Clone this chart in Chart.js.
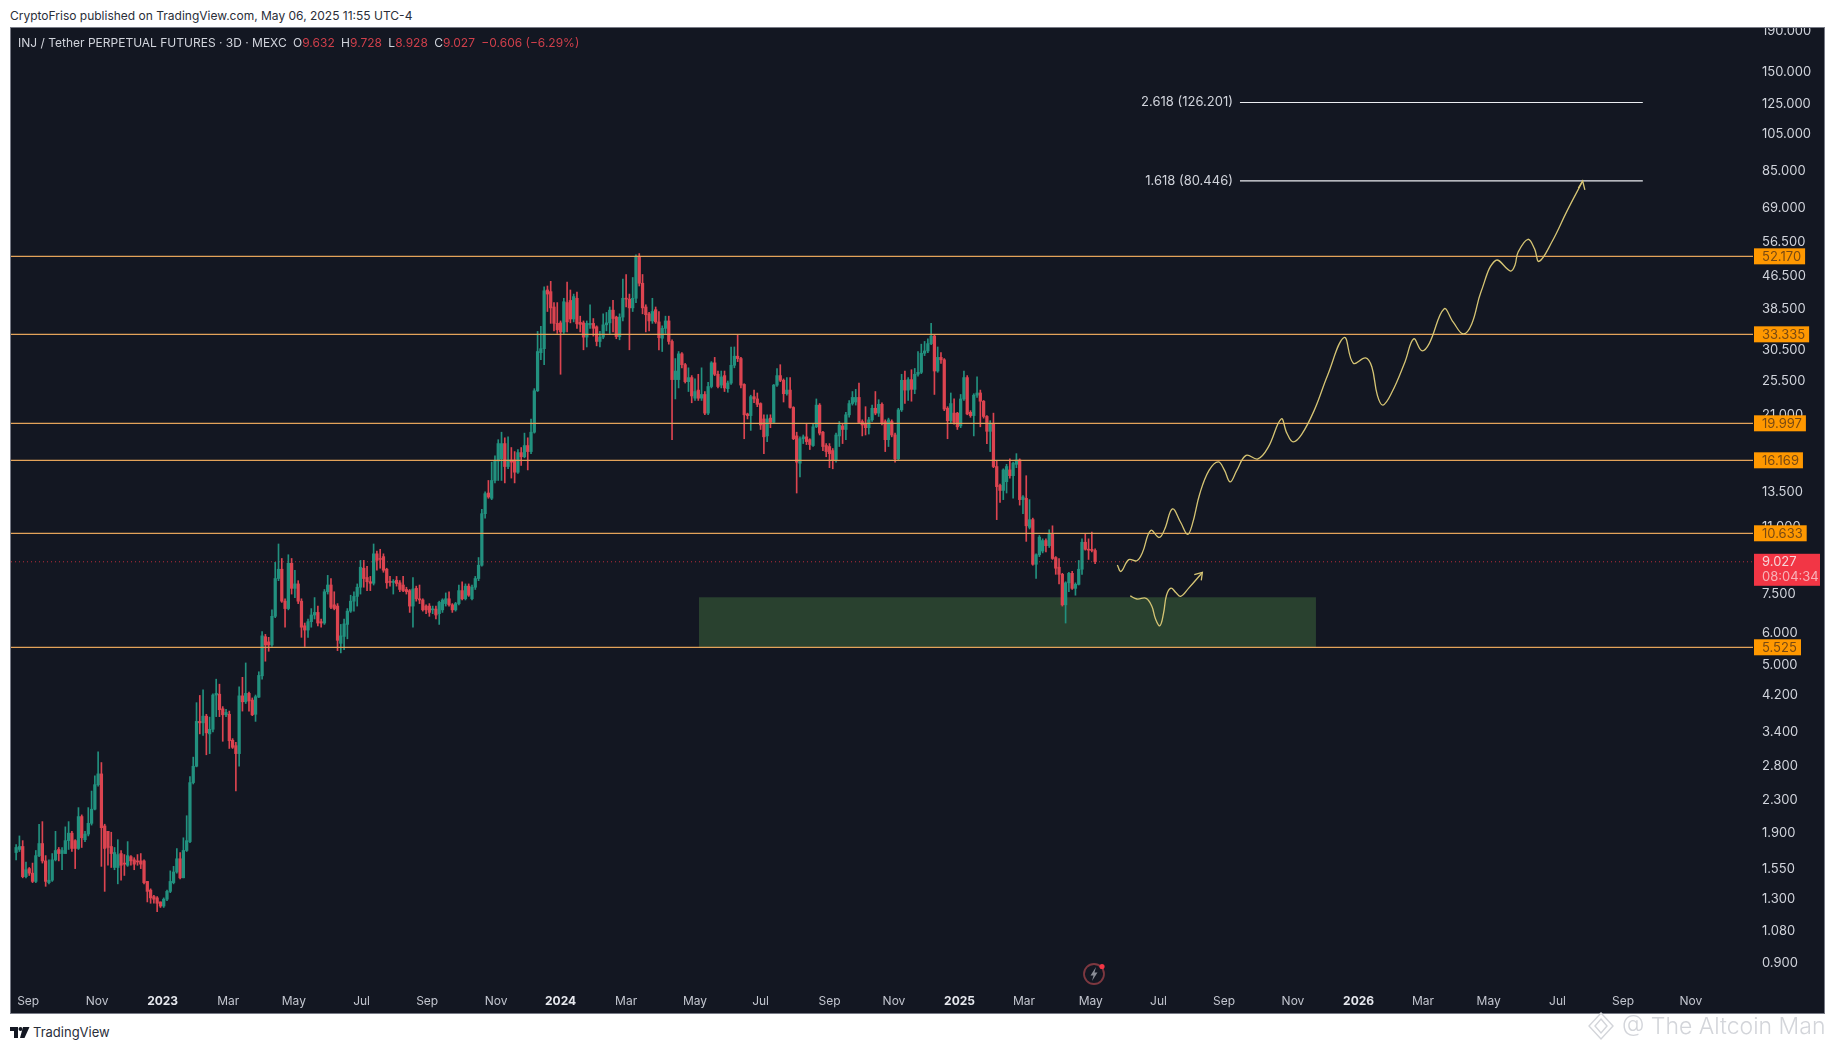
<!DOCTYPE html>
<html>
<head>
<meta charset="utf-8">
<title>INJ / Tether PERPETUAL FUTURES</title>
<script src="https://cdn.jsdelivr.net/npm/chart.js@4"></script>
<style>
  html, body { margin: 0; padding: 0; background: #fff; width: 1835px; height: 1050px; overflow: hidden; font-family: Inter, "Noto Sans", sans-serif; }
  #pub { position: absolute; left: 10px; top: 8px; font-size: 12px; line-height: 16px; color: #2a2e39; white-space: nowrap; }
  #panel { position: absolute; left: 10px; top: 27px; width: 1815px; height: 987px; background: #131722; border: 1px solid #787b86; box-sizing: border-box; }
  #wrap { position: absolute; left: 11px; top: 28px; width: 1814px; height: 986px; }
  #legend { position: absolute; left: 18px; top: 35px; font-size: 12px; line-height: 16px; color: #d1d4dc; white-space: nowrap; }
  #legend b { font-weight: 400; margin-left: 3px; }
  #legend span { color: #cf3f4b; }
  #legend span.chg { margin-left: 3px; }
  #bolt { position: absolute; left: 1082px; top: 961px; }
  #logo { position: absolute; left: 10px; top: 1026px; }
  #brand { position: absolute; left: 33px; top: 1023px; font-size: 13px; line-height: 18px; color: #2a2e39; }
  #mark { position: absolute; left: 1622px; top: 1010px; font-size: 23px; line-height: 32px; color: #d3d5da; white-space: nowrap; font-weight: 300; }
  #gem { position: absolute; left: 1586px; top: 1010px; }
</style>
</head>
<body>
<div id="pub">CryptoFriso published on TradingView.com, May 06, 2025 11:55 UTC-4</div>
<div id="panel"></div>
<div id="wrap"><canvas id="chart" width="1814" height="986"></canvas></div>
<div id="legend">INJ / Tether PERPETUAL FUTURES · 3D · MEXC <b>O</b><span>9.632</span> <b>H</b><span>9.728</span> <b>L</b><span>8.928</span> <b>C</b><span>9.027</span> <span class="chg">−0.606 (−6.29%)</span></div>
<svg id="bolt" width="26" height="26" viewBox="0 0 26 26">
  <circle cx="12" cy="13" r="10" fill="none" stroke="#7d3840" stroke-width="1.8"/>
  <path d="M14 6 L8.5 14.5 L11.5 14.5 L10 20 L15.5 11.5 L12.5 11.5 Z" fill="#8a8d96"/>
  <circle cx="20" cy="5.5" r="2.6" fill="#f23645"/>
</svg>
<svg id="logo" width="20" height="13" viewBox="0 0 20 13">
  <path d="M0 1 H8 V12 H4 V5 H0 Z M13 1 H19.5 L14.5 12 H10 Z" fill="#131722"/>
  <circle cx="10.5" cy="3" r="2" fill="#131722"/>
</svg>
<div id="brand">TradingView</div>
<svg id="gem" width="30" height="32" viewBox="0 0 30 32">
  <path d="M15 3 L27 16 L15 29 L3 16 Z M15 9 L21 16 L15 23 L9 16 Z" fill="none" stroke="#d3d5da" stroke-width="1.4"/>
</svg>
<div id="mark">@ The Altcoin Man</div>

<script>
// 3D candles, first one on 2022-08-20 (days counted from 2022-09-01)
const firstCandleDay = -12;
const candleStep = 3;

const opens = [
  1.70,1.73,1.76,1.48,1.55,1.51,1.44,1.67,1.79,1.62,1.43,1.45,1.63,1.73,1.69,1.69,1.82,1.90,1.82,1.74,
  2.09,1.83,1.89,2.01,2.18,2.51,2.67,1.98,1.92,1.76,1.56,1.56,1.69,1.60,1.58,1.66,1.63,1.62,1.62,1.62,
  1.44,1.37,1.32,1.31,1.28,1.25,1.30,1.36,1.43,1.52,1.64,1.47,1.72,1.81,2.54,2.79,3.61,3.58,3.72,3.36,
  3.45,4.20,4.22,3.88,3.75,3.76,3.24,3.14,3.00,4.18,4.04,4.24,
  4.08,3.76,4.15,4.69,5.87,5.7,5.6,6.6,8.2,8.65,7.2,6.9,8.95,7.75,7.95,7.2,6.25,6.1,6.4,6.65,
  6.75,6.4,6.35,7.6,7.9,7.05,7.0,5.65,5.88,6.3,6.8,7.2,7.4,7.8,8.7,8.25,8.05,7.98,9.45,9.2,
  9.3,8.65,8.05,8.02,8.12,8.0,7.9,7.7,7.65,7.0,7.75,7.3,7.25,7.0,7.0,6.85,6.88,6.7,6.85,7.1,
  7.3,7.05,6.85,7.1,7.65,7.3,7.85,7.3,7.8,8.2,
  8.85,11.9,13.4,13.0,14.4,16.1,16.3,17.8,15.6,16.2,16.2,15.1,16.9,16.5,17.6,17.0,19,24.1,30,30.7,
  43,42.6,39,35.5,35.6,33.8,40,40.5,36.4,41,35.7,35.6,32.8,35.2,35.5,34.8,32,32.8,35.2,35.6,
  38.3,36.8,32.9,36.8,41,40.8,38.8,41,52.2,44.7,39,37.5,36,38.4,35.8,32.6,34.5,36,32,25.7,
  25.7,29.8,28,25.4,26,23.1,24.2,23.1,23.6,21.2,24.7,28.3,26.5,
  24.9,26.3,24.4,25.2,27.9,29.4,29,25,21.1,20.9,23.3,23,22.4,20.5,18.6,20.6,20.1,24.9,26.3,25.6,
  23.7,24.2,21.9,18.6,15.9,18.3,18.5,18.2,17.6,19.6,22.2,19,17.6,17.5,17.1,16.2,18.6,19.7,19.3,21,
  22.4,22.6,23.2,20.2,20,19.5,20.4,21.8,21.2,22.3,20.2,18.2,20.2,18.7,16.3,21.6,25.6,24.2,25.7,24.3,
  26.5,26.8,29.9,30.3,31.6,33,27,29.2,28.8,21.8,20.3,21.2,21.2,19.7,
  23,26,21.3,20.9,23.5,23.8,22.7,20.8,19.1,20,15.6,14,13.6,14.3,15.3,14.8,15.8,16.2,12.9,13,
  11,11.5,8.9,9.4,9.6,10.2,9.9,10.6,9.25,8.75,8.4,7.05,8,8.45,7.75,7.93,8.65,10.1,9.7,9.7,
  9.632
];
const highs = [
  1.78,1.87,1.82,1.61,1.56,1.60,1.72,2.00,2.03,1.67,1.63,1.69,1.92,1.75,1.75,1.97,2.03,1.92,1.83,2.20,
  2.11,1.92,2.20,2.42,2.64,3.03,2.85,2.00,1.92,1.91,1.75,1.83,1.72,1.68,1.81,1.67,1.65,1.68,1.69,1.63,
  1.44,1.38,1.33,1.32,1.28,1.31,1.37,1.53,1.57,1.74,1.70,1.85,2.10,2.63,2.94,4.02,4.19,4.33,3.76,3.70,
  4.23,4.60,4.47,3.93,3.87,3.83,3.27,3.20,4.40,4.65,5.05,4.27,
  4.13,4.2,4.8,6.05,5.95,5.85,6.85,9.0,10.0,9.2,7.3,9.4,9.2,8.6,8.1,7.3,6.35,6.5,6.9,7.35,
  7.0,6.5,7.7,8.35,8.2,7.6,7.1,6.3,6.5,6.9,7.45,7.6,7.95,9.1,9.1,8.8,8.3,10.0,9.6,9.7,
  9.45,8.7,8.3,8.15,8.3,8.1,8.3,7.8,7.7,8.25,7.85,7.9,7.3,7.05,7.1,7.0,7.0,7.2,7.3,7.55,
  7.6,7.1,7.15,7.9,8.05,7.95,7.95,7.9,8.3,9.25,
  12.2,13.5,14.4,16,16.6,18.2,19,18.4,18.5,17.4,17,17.2,17.4,18.9,18.4,20.5,24.4,33.9,34.9,43.8,
  44,45.2,40,40,36,41,45,43,42,42.5,37,36,36,39.5,36.5,35,33.9,37.5,37.8,39,
  40.5,37,37.5,45.8,47,42,46.2,52.6,53,47,39.5,37.8,41,39,38,35,37,37,32.3,29,
  30.2,30,28.2,27.5,26.3,25.8,26.5,27.5,24,25.3,28.5,29.2,27,
  27,27,25.5,31,31,33.3,29.2,25.1,21.2,23.5,24.2,23.8,22.5,21,21,21,25,27.4,28,25.8,
  26,26,22,19,18.5,18.7,20,18.3,19.9,23,22.4,19.1,17.8,17.8,17.3,18.9,20.2,19.9,21.3,22.8,
  24,24.3,25.2,20.4,22,20.7,22.2,24,22.9,22.5,20.4,20.6,20.4,18.9,21.8,26.5,27,26,27.2,27.4,
  30.2,31.5,32,32.5,35.5,33.3,31,30,29,22,23.8,23,21.3,23.6,
  27,26.3,21.5,23.7,26.1,24.2,22.8,20.9,20.3,21.2,16.1,14.1,15.4,15.8,16.3,16,16.8,16.3,13.2,14.8,
  12.9,11.6,9.45,10.5,10.3,10.3,10.85,11.1,9.3,9.2,8.45,8.05,8.5,8.55,8,9.1,10.3,10.6,10.3,10.7,
  9.728
];
const lows = [
  1.63,1.71,1.47,1.47,1.49,1.43,1.43,1.66,1.60,1.40,1.42,1.44,1.62,1.62,1.54,1.69,1.73,1.71,1.55,1.73,
  1.75,1.81,1.87,1.99,2.17,2.49,1.57,1.36,1.58,1.56,1.54,1.42,1.45,1.49,1.57,1.58,1.54,1.58,1.55,1.42,
  1.28,1.27,1.27,1.21,1.24,1.24,1.29,1.35,1.42,1.51,1.46,1.47,1.71,1.80,2.52,2.78,3.36,3.33,2.98,3.00,
  3.40,3.71,3.71,3.22,3.71,3.09,3.09,2.42,2.79,3.83,4.00,3.83,
  3.73,3.61,4.14,4.6,5.1,5.4,5.55,6.55,8.1,7.15,6.2,6.85,7.5,7.35,7.1,5.85,5.55,5.85,6.2,6.5,
  6.25,6.2,6.3,7.5,6.9,6.85,5.42,5.35,5.45,5.8,6.75,6.8,7.0,7.5,7.8,7.65,7.65,7.9,8.6,8.7,
  8.5,7.75,7.85,7.5,7.85,7.6,7.6,7.5,6.75,6.2,7.2,7.1,6.8,6.7,6.6,6.7,6.5,6.3,6.75,7.0,
  7.0,6.75,6.8,7.05,7.25,7.25,7.4,7.25,7.7,8.1,
  8.8,11.6,13,12.9,14.2,14.4,14.4,14.2,15.4,14.6,14.2,15,15.7,16.4,15.3,16.8,18.9,24,28.8,28,
  38,35.5,34,33.5,26.5,33.5,33.8,35.6,35.8,34.5,33.8,30.5,31,34.5,33,31.2,31,32.5,34,33.5,
  33.8,32.5,32.3,36,39,30.5,38,40,44,37.5,33.8,34,35.5,35.5,30.5,30.2,33.5,31.5,18.2,23,
  24.5,27.5,25.2,24,22.5,22.8,22.8,22.8,21,21,24.5,26.3,24.5,
  24.5,24,23.9,25,27.5,28.5,24.5,18.3,20.5,19.2,22.5,22,19.3,16.8,18,19.5,20,24.7,25.4,22.6,
  23.5,21.8,18.2,13.4,14.7,17.8,17.7,17.2,17.5,19.5,18.7,17.1,16.5,15.5,15.4,16,17.5,17.8,18.2,20.7,
  22.2,22.2,20,18.6,18.7,18.8,20.2,21,20.8,19.8,17,17.5,18.5,16,16.2,21.4,22.4,22.8,22.7,23.7,
  26.2,26.6,29.5,30,31.4,23.6,26.8,28.2,21.5,18.3,20,19.9,19.3,19.5,
  22.8,21,20.7,18.6,23.2,19.6,20.6,17.8,17,15.5,11.5,12.7,12.9,13.4,14.6,13,15.5,12.5,11.9,10.15,
  10.9,8.85,8.2,9.3,9.5,9.55,9.8,9.15,8.4,7.95,7,6.35,7.6,7.7,7.45,7.9,8.4,9.65,9.15,9.55,
  8.928
];
const closes = [
  1.75,1.76,1.48,1.54,1.51,1.44,1.67,1.79,1.62,1.44,1.45,1.63,1.72,1.69,1.72,1.82,1.90,1.74,1.74,2.09,
  1.85,1.89,2.01,2.18,2.51,2.67,1.96,1.74,1.75,1.69,1.70,1.68,1.58,1.59,1.67,1.62,1.59,1.61,1.59,1.43,
  1.36,1.31,1.30,1.27,1.25,1.30,1.36,1.44,1.52,1.64,1.47,1.72,1.82,2.54,2.79,3.61,3.58,3.72,3.38,3.45,
  4.20,4.24,3.86,3.75,3.80,3.23,3.11,3.00,4.18,4.04,4.24,4.06,
  3.75,4.16,4.70,5.90,5.6,5.6,6.6,8.2,8.65,7.2,6.9,8.95,7.75,7.95,7.2,6.2,6.1,6.4,6.65,6.75,
  6.35,6.35,7.6,7.9,6.95,6.9,5.75,5.9,6.32,6.8,7.2,7.4,7.8,8.75,8.2,8.05,7.98,9.45,9.1,9.15,
  8.6,8.0,8.02,8.05,7.97,7.7,7.65,7.6,7.0,7.72,7.3,7.25,6.85,6.85,6.75,6.88,6.65,7.15,7.25,7.3,
  7.05,6.85,7.1,7.65,7.3,7.85,7.45,7.8,8.2,8.85,
  11.9,13.35,13.1,14.4,16.1,17.8,17.8,15.6,16.2,16,15.1,16.9,16.5,17.6,17,19,24.1,30.2,30.7,42.8,
  42,38.8,35.5,34.2,33.8,40.2,35.8,36.4,41.4,35.4,35.3,32.8,35.5,35.5,34.5,32,32.8,35.2,35.6,38.3,
  36.5,32.9,36.8,41,40.8,38.8,41,52.2,44.7,38.8,37.3,36,38,35.8,32.7,34.5,36,32,25.7,27,
  29.8,28,25.4,26,23.4,24,23.1,23.6,21.2,24.7,28.3,26.5,24.7,
  26.1,24.5,25.2,27.9,29.4,29,24.9,21,20.9,23.3,23,22.3,19.8,18.5,20.5,20.1,24.9,26.3,25.6,23.7,
  24.2,21.9,18.3,16,18.3,18.5,18,17.7,19.6,22.2,18.9,17.5,17,16.8,16.2,18.7,19.8,19.3,21,22.4,
  23.2,23.2,20.1,19.8,19.5,20.4,21.8,21.2,22.3,20,18.2,20.4,18.7,16.3,21.6,25.6,24.2,25.7,24.3,26.5,
  26.8,29.9,30.3,31.6,33,27,29.2,28.8,21.7,20.3,22.4,20.1,19.6,23,
  26,21.1,20.9,23.5,23.8,22.7,20.8,19.1,20,15.6,13.9,13.6,15.3,15.6,14.8,15.9,16.2,12.9,13.1,11.1,
  11.5,8.9,9.4,10.4,10.2,9.9,10.6,9.2,8.7,8.4,7.05,8,8.45,7.75,7.93,8.65,10.1,9.7,9.65,9.63,
  9.027
];

// horizontal levels drawn on the chart
const levels = [52.17, 33.335, 19.997, 16.169, 10.633, 5.525];
const levelLabels = ['52.170', '33.335', '19.997', '16.169', '10.633', '5.525'];
const lastPrice = 9.027;
const lastPriceLabel = '9.027';
const countdown = '08:04:34';
const fibLevels = [126.201, 80.446];
const fibLabels = ['2.618 (126.201)', '1.618 (80.446)'];
const fibDays = [1107.5, 1476];

// green demand zone
const zoneDays = [612.6, 1177];
const zoneTop = 7.36;
const zoneBottom = 5.525;

// hand drawn projection, big path and small path
const pathDays = [995.3,998.7,1005.8,1013.2,1018.3,1025.8,1033.5,1038.6,1045.7,1053.2,1059.6,1064,1070.8,1079.2,1087.7,1093.4,1098.5,1104.6,1113.1,1123.9,1133.4,1145.2,1150.3,1156,1163.8,1175.7,1187.5,1202.8,1211.2,1222.4,1228.1,1233.2,1238.3,1246.7,1258.6,1266.4,1273.8,1280.6,1294.1,1302.6,1311.7,1319.5,1328,1341.5,1355,1359.1,1361.8,1370.9,1377,1381.1,1392.9,1406.5,1421];
const pathValues = [8.86,8.54,9.14,9.08,9.52,10.81,10.38,10.88,12.23,11.33,10.57,11.22,13.36,15.26,16.03,15.26,14.29,15.26,16.63,16.30,17.44,20.51,18.93,17.98,18.74,21.63,26.28,32.73,28.24,29.12,27.67,23.48,22.21,23.96,28.53,32.47,30.34,31.61,38.57,35.75,33.41,35.39,42.56,50.98,47.94,49.64,53.34,57.54,54.44,50.67,56.72,67.53,80.4];
const pathHeadDays = [1417, 1421, 1423];
const pathHeadValues = [77.2, 80.4, 76.4];
const smallDays = [1007.1,1013.2,1021.7,1026.8,1030.2,1034.2,1037.6,1040.3,1044.4,1048.8,1053.2,1060.6,1072.5];
const smallValues = [7.42,7.29,7.32,7.00,6.51,6.25,6.72,7.45,7.76,7.57,7.40,7.76,8.45];
const smallHeadDays = [1065.7, 1073.1, 1072.1];
const smallHeadValues = [8.38, 8.49, 8.11];

// axes, tick dates sit on the 3D bar grid so they are not always the 1st
const priceTicks = [190,150,125,105,85,69,56.5,46.5,38.5,30.5,25.5,21,13.5,11,7.5,6,5,4.2,3.4,2.8,2.3,1.9,1.55,1.3,1.08,0.9];
const timeTickDates = ['2022-08-31','2022-11-02','2023-01-01','2023-03-02','2023-05-01','2023-07-02','2023-08-31','2023-11-02','2023-12-31','2024-02-29','2024-05-02','2024-07-01','2024-09-02','2024-10-31','2024-12-30','2025-02-27','2025-04-29','2025-06-30','2025-08-29','2025-10-31','2025-12-30','2026-02-27','2026-04-28','2026-06-30','2026-08-29','2026-10-30'];
const timeTickLabels = ['Sep','Nov','2023','Mar','May','Jul','Sep','Nov','2024','Mar','May','Jul','Sep','Nov','2025','Mar','May','Jul','Sep','Nov','2026','Mar','May','Jul','Sep','Nov'];

const UP = '#22917f', DOWN = '#dc4450', LEVEL = '#e3a35a', SKETCH = '#d6c574';
const FONT = 'Inter, "Noto Sans", sans-serif';

const dayOf = s => (Date.parse(s) - Date.parse('2022-09-01')) / 86400000;
const timeTicks = timeTickDates.map(dayOf);
const candleX = closes.map((_, i) => firstCandleDay + i * candleStep);
const candleColors = closes.map((c, i) => c >= opens[i] ? UP : DOWN);
const isYear = c => c.tick && /^\d/.test(timeTickLabels[timeTicks.indexOf(c.tick.value)]);

const xy = (xs, ys) => xs.map((x, i) => ({ x, y: ys[i] }));
const sketch = (xs, ys, tension) => ({ type: 'line', data: xy(xs, ys), borderColor: SKETCH, borderWidth: 1.3, pointRadius: 0, tension, order: 1 });
const hline = (v, x0, x1, color, order) => ({ type: 'line', data: [{ x: x0, y: v }, { x: x1, y: v }], borderColor: color, borderWidth: 1.2, pointRadius: 0, order });

const X_MIN = -16.7, X_MAX = 1576.8, Y_MIN = 0.7898, Y_MAX = 193.6;

// price tags on the right axis and labels left of the fib lines
const overlayLabels = {
  id: 'overlayLabels',
  afterDraw(chart) {
    const { ctx, chartArea, scales } = chart;
    const y = scales.y, x = scales.x;
    ctx.save();
    ctx.textBaseline = 'middle';
    ctx.font = '13px ' + FONT;
    ctx.textAlign = 'right';
    ctx.fillStyle = '#d1d4dc';
    fibLevels.forEach((v, i) => ctx.fillText(fibLabels[i], x.getPixelForValue(fibDays[0]) - 7, y.getPixelForValue(v)));
    ctx.textAlign = 'left';
    const left = chartArea.right + 1;
    levels.forEach((v, i) => {
      const py = y.getPixelForValue(v);
      const w = ctx.measureText(levelLabels[i]).width + 12;
      ctx.fillStyle = '#ff9800';
      ctx.fillRect(left, py - 8, Math.max(w, 47), 16);
      ctx.fillStyle = '#7a4a12';
      ctx.fillText(levelLabels[i], left + 8, py + 0.5);
    });
    const py = y.getPixelForValue(lastPrice);
    ctx.fillStyle = '#f23645';
    ctx.fillRect(left, py - 8, 66, 32);
    ctx.fillStyle = '#f5d5d8';
    ctx.fillText(lastPriceLabel, left + 8, py + 0.5);
    ctx.fillStyle = '#f7b3b9';
    ctx.fillText(countdown, left + 8, py + 15.5);
    ctx.restore();
  }
};

const chart = new Chart(document.getElementById('chart'), {
  type: 'bar',
  data: {
    datasets: [
      { type: 'line', data: xy(zoneDays, [zoneTop, zoneTop]), borderWidth: 0, pointRadius: 0, fill: { value: zoneBottom }, backgroundColor: '#29412f', order: 6 },
      { ...hline(lastPrice, X_MIN, X_MAX, 'rgba(242,54,69,0.75)', 5), borderWidth: 1, borderDash: [1, 3] },
      { type: 'bar', data: candleX.map((x, i) => ({ x, y: [lows[i], highs[i]] })), backgroundColor: candleColors, barThickness: 1, order: 4 },
      { type: 'bar', data: candleX.map((x, i) => ({ x, y: [opens[i], closes[i]] })), backgroundColor: candleColors, barThickness: 2.6, minBarLength: 1, order: 3 },
      ...levels.map(v => hline(v, X_MIN, X_MAX, LEVEL, 2)),
      ...fibLevels.map(v => hline(v, fibDays[0], fibDays[1], '#eceef2', 2)),
      sketch(pathDays, pathValues, 0.4),
      sketch(pathHeadDays, pathHeadValues, 0),
      sketch(smallDays, smallValues, 0.4),
      sketch(smallHeadDays, smallHeadValues, 0)
    ]
  },
  options: {
    responsive: false,
    animation: false,
    layout: { padding: 0 },
    datasets: { bar: { grouped: false, borderWidth: 0 } },
    plugins: { legend: { display: false }, tooltip: { enabled: false } },
    scales: {
      x: {
        type: 'linear', min: X_MIN, max: X_MAX, offset: false,
        grid: { display: false, drawTicks: false }, border: { display: false },
        afterBuildTicks: s => { s.ticks = timeTicks.map(value => ({ value })); },
        afterFit: s => { s.height = 28; s.paddingLeft = 0; s.paddingRight = 0; },
        ticks: {
          autoSkip: false, maxRotation: 0, padding: 8,
          color: c => isYear(c) ? '#e6e8ee' : '#c3c6cf',
          font: c => ({ family: FONT, size: 12, weight: isYear(c) ? '700' : '400' }),
          callback: v => timeTickLabels[timeTicks.indexOf(v)]
        }
      },
      y: {
        type: 'logarithmic', position: 'right', min: Y_MIN, max: Y_MAX,
        grid: { display: false, drawTicks: false }, border: { display: false },
        afterBuildTicks: s => { s.ticks = priceTicks.map(value => ({ value })); },
        afterFit: s => { s.width = 72; s.paddingTop = 0; s.paddingBottom = 0; },
        ticks: {
          autoSkip: false, padding: 9, color: '#d1d4dc', font: { family: FONT, size: 13 },
          callback: v => Number(v).toFixed(3)
        }
      }
    }
  },
  plugins: [overlayLabels]
});
</script>
</body>
</html>
